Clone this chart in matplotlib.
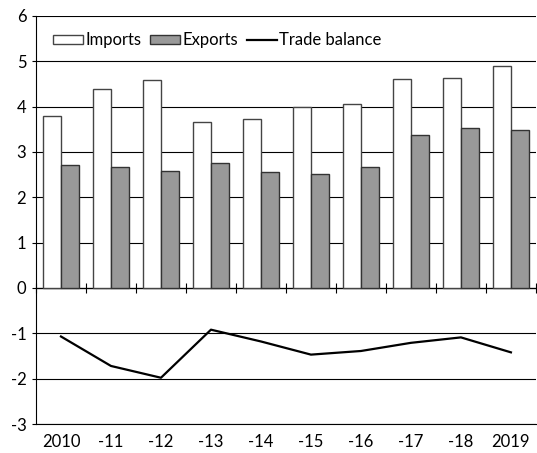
import matplotlib
matplotlib.use('Agg')
import matplotlib.pyplot as plt
from matplotlib.patches import Patch
from matplotlib.lines import Line2D
import numpy as np

# Data
years = ['2010', '-11', '-12', '-13', '-14', '-15', '-16', '-17', '-18', '2019']
imports = [3.8, 4.38, 4.58, 3.65, 3.73, 3.98, 4.05, 4.6, 4.62, 4.9]
exports = [2.72, 2.66, 2.58, 2.76, 2.56, 2.52, 2.66, 3.38, 3.53, 3.48]
trade_balance = [-1.07, -1.72, -1.98, -0.92, -1.18, -1.47, -1.39, -1.21, -1.09, -1.42]
y_ticks = [-3, -2, -1, 0, 1, 2, 3, 4, 5, 6]

plt.rcParams['font.family'] = ['Lato', 'DejaVu Sans']
plt.rcParams['font.size'] = 12
plt.rcParams['axes.unicode_minus'] = False

fig = plt.figure(figsize=(5.37, 4.53), dpi=100)
ax = fig.add_axes([0.067, 0.064, 0.931, 0.901])

x = np.arange(len(years))
w = 0.36

ax.bar(x - w / 2, imports, w, color='white', edgecolor='#444444', linewidth=1.0, zorder=3)
ax.bar(x + w / 2, exports, w, color='#999999', edgecolor='#333333', linewidth=1.0, zorder=3)
ax.plot(x, trade_balance, color='black', linewidth=1.6, zorder=4)

ax.set_xlim(-0.5, len(years) - 0.5)
ax.set_ylim(-3, 6)
ax.set_yticks(y_ticks)
ax.set_yticklabels([str(t) for t in y_ticks])
ax.yaxis.grid(True, color='black', linewidth=0.8, zorder=0)
ax.set_axisbelow(True)

for s in ['top', 'right']:
    ax.spines[s].set_visible(False)
ax.spines['left'].set_linewidth(0.8)
ax.spines['bottom'].set_linewidth(0.8)
ax.tick_params(axis='y', direction='out', length=3, width=0.8, pad=4)

# category labels at the bottom
ax.set_xticks(x)
ax.set_xticklabels(years)
ax.tick_params(axis='x', length=0, pad=7)

# zero line with boundary ticks
zero_ax = ax.secondary_xaxis(3 / 9)
zero_ax.set_xticks(np.arange(len(years) + 1) - 0.5)
zero_ax.set_xticklabels([])
zero_ax.tick_params(direction='inout', length=7, width=0.8)
zero_ax.spines['bottom'].set_linewidth(0.9)

handles = [
    Patch(facecolor='white', edgecolor='#444444', linewidth=1.0),
    Patch(facecolor='#999999', edgecolor='#333333', linewidth=1.0),
    Line2D([0], [0], color='black', linewidth=1.6),
]
ax.legend(handles, ['Imports', 'Exports', 'Trade balance'], ncol=3,
          loc='center left', bbox_to_anchor=(0.035, 0.94), frameon=False,
          handlelength=1.8, handleheight=0.5, handletextpad=0.15,
          columnspacing=0.5, borderaxespad=0, borderpad=0)

fig.savefig('out.png', dpi=100)
